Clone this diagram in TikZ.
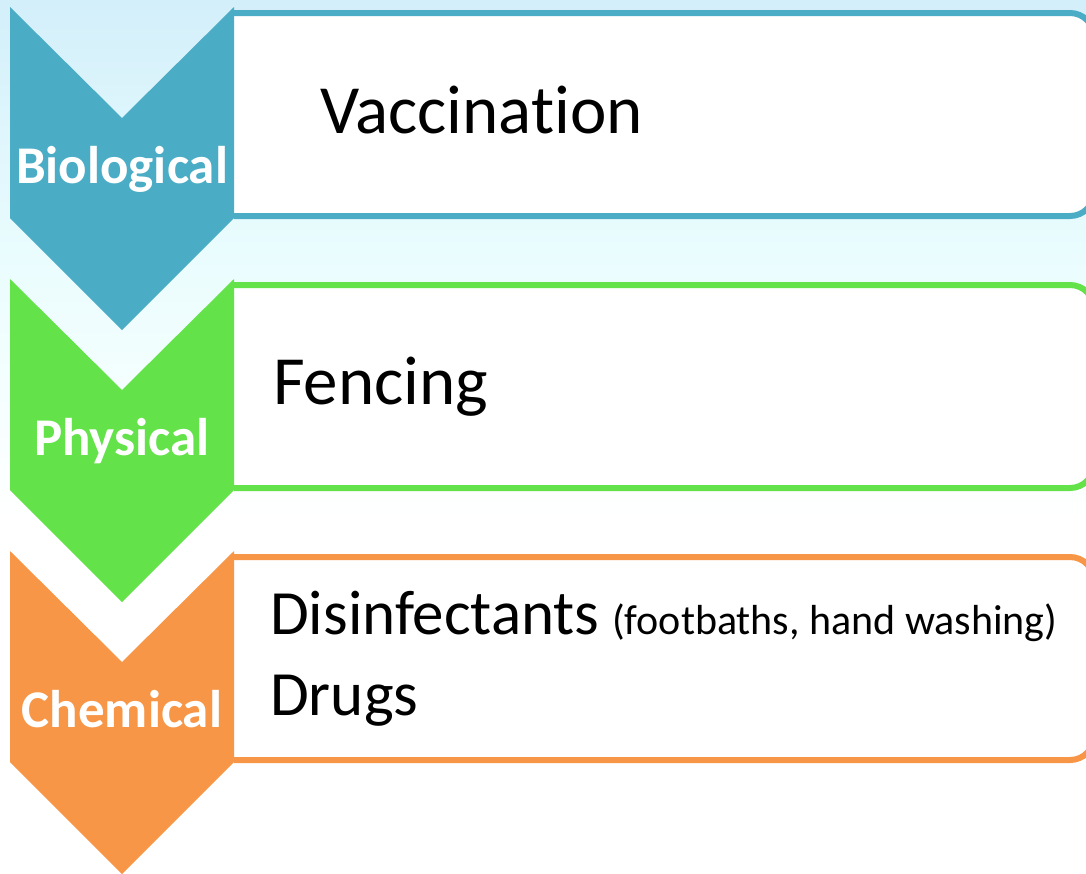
\documentclass[tikz,border=0pt]{standalone}
\usepackage{fontspec}
\setmainfont{Carlito}[Ligatures={NoCommon,NoRare,NoContextual}]
\usetikzlibrary{positioning}

\definecolor{bioblue}{RGB}{75,172,198}
\definecolor{physgreen}{RGB}{99,226,74}
\definecolor{chemorange}{RGB}{247,150,70}
\definecolor{skytop}{RGB}{211,239,250}
\definecolor{skymid}{RGB}{235,253,254}

\begin{document}
\begin{tikzpicture}[x=1pt, y=-1pt,
                    stagelabel/.style={text=white, inner sep=0, anchor=base,
                                       font=\fontsize{53}{62}\selectfont\bfseries},
                    itemtext/.style={text=black, inner sep=0, anchor=base west,
                                     font=\fontsize{63}{76}\selectfont},
                    bigitem/.style={itemtext, font=\fontsize{69}{82}\selectfont},
                    boxline/.style={line width=6pt, fill=white}]
                \useasboundingbox (0,0) rectangle (1086,873);
                \shade [top color=skytop, bottom color=skymid] (0,0) rectangle (1086,270);
                \shade [top color=skymid, bottom color=white] (0,270) rectangle (1086,520);

                % boxes
                \filldraw [boxline, draw=bioblue] (234,13) [rounded corners=24pt] -- (1094,13) -- (1094,216) -- (234,216);
                \filldraw [boxline, draw=physgreen] (234,285) [rounded corners=24pt] -- (1094,285) -- (1094,488) -- (234,488);
                \filldraw [boxline, draw=chemorange] (234,557) [rounded corners=24pt] -- (1094,557) -- (1094,760) -- (234,760);

                % chevrons
                \fill [bioblue] (10,7) -- (122,118) -- (234,7) -- (234,218) -- (122,330) -- (10,218) -- cycle;
                \fill [physgreen] (10,279) -- (122,390) -- (234,279) -- (234,490) -- (122,602) -- (10,490) -- cycle;
                \fill [chemorange] (10,551) -- (122,662) -- (234,551) -- (234,762) -- (122,874) -- (10,762) -- cycle;

                \node [stagelabel] (bio) at (122,183) {Biological};
                \node [stagelabel] (phys) at (122,455) {Physical};
                \node [stagelabel] (chem) at (122,727) {Chemical};

                \node [bigitem] (vacc) at (320,133) {Vaccination};
                \node [bigitem] (fence) at (273,404) {Fencing};
                \node [itemtext] (disinf) at (270,634) {Disinfectants};
                \node [itemtext, right=12pt of disinf.base east, anchor=base west,
                       font=\fontsize{42}{50}\selectfont] (footbath) {(footbaths, hand washing)};
                \node [itemtext] (drugs) at (270,715) {Drugs};
            \end{tikzpicture}
\end{document}
